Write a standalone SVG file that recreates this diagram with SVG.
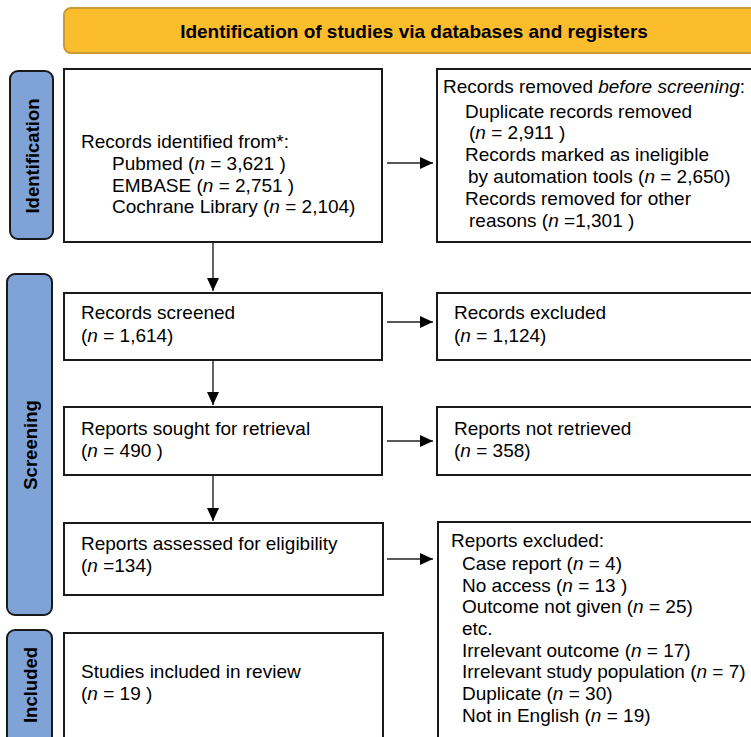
<svg xmlns="http://www.w3.org/2000/svg" width="751" height="737" viewBox="0 0 751 737">
<defs>
<marker id="ah" markerUnits="userSpaceOnUse" markerWidth="14" markerHeight="12" refX="13" refY="6" orient="auto">
<path d="M0,0 L13,6 L0,12 Z" fill="#000"/>
</marker>
<style>
.t{font-family:"Liberation Sans",Arial,sans-serif;font-size:19px;fill:#000}
.box{fill:#fff;stroke:#1a1a1a;stroke-width:2}
.side{fill:#7fa3d6;stroke:#1a1a1a;stroke-width:2}
.sl{font-family:"Liberation Sans",Arial,sans-serif;font-size:18.5px;font-weight:bold;fill:#000}
.ban{fill:#fbbd2c;stroke:#c99b35;stroke-width:2}
.bt{font-family:"Liberation Sans",Arial,sans-serif;font-size:19px;font-weight:bold;fill:#000}
.c{stroke:#222;stroke-width:1.4;fill:none;marker-end:url(#ah)}
</style>
</defs>
<rect width="751" height="737" fill="#fff"/>
<g id="banner">
<rect class="ban" x="64" y="8" width="720" height="45" rx="7"/>
<text class="bt" x="414" y="38" text-anchor="middle">Identification of studies via databases and registers</text>
</g>
<g id="side-identification">
<rect class="side" x="10" y="71" width="43" height="168" rx="8"/>
<text class="sl" transform="translate(38.5,156) rotate(-90)" text-anchor="middle">Identification</text>
</g>
<g id="side-screening">
<rect class="side" x="7" y="274" width="45" height="341" rx="8"/>
<text class="sl" transform="translate(36.5,445) rotate(-90)" text-anchor="middle">Screening</text>
</g>
<g id="side-included">
<rect class="side" x="7" y="630" width="45" height="120" rx="8"/>
<text class="sl" transform="translate(36.5,685) rotate(-90)" text-anchor="middle">Included</text>
</g>
<g id="records-identified">
<rect class="box" x="64" y="69" width="318" height="173"/>
<text class="t" x="81" y="148">Records identified from*:</text>
<text class="t" x="112" y="170">Pubmed (<tspan font-style="italic">n</tspan> = 3,621 )</text>
<text class="t" x="112" y="192">EMBASE (<tspan font-style="italic">n</tspan> = 2,751 )</text>
<text class="t" x="112" y="213">Cochrane Library (<tspan font-style="italic">n</tspan> = 2,104)</text>
</g>
<g id="records-removed">
<rect class="box" x="437" y="69" width="330" height="173"/>
<text class="t" x="443" y="93">Records removed <tspan font-style="italic">before screening</tspan>:</text>
<text class="t" x="465" y="118">Duplicate records removed</text>
<text class="t" x="469" y="139">(<tspan font-style="italic">n</tspan> = 2,911 )</text>
<text class="t" x="465" y="161">Records marked as ineligible</text>
<text class="t" x="468" y="183">by automation tools (<tspan font-style="italic">n</tspan> = 2,650)</text>
<text class="t" x="465" y="205">Records removed for other</text>
<text class="t" x="469" y="227">reasons (<tspan font-style="italic">n</tspan> =1,301 )</text>
</g>
<g id="records-screened">
<rect class="box" x="64" y="293" width="318" height="67"/>
<text class="t" x="81" y="319">Records screened</text>
<text class="t" x="81" y="342">(<tspan font-style="italic">n</tspan> = 1,614)</text>
</g>
<g id="records-excluded">
<rect class="box" x="437" y="293" width="330" height="67"/>
<text class="t" x="454" y="319">Records excluded</text>
<text class="t" x="454" y="342">(<tspan font-style="italic">n</tspan> = 1,124)</text>
</g>
<g id="reports-sought">
<rect class="box" x="64" y="407" width="318" height="68"/>
<text class="t" x="81" y="435">Reports sought for retrieval</text>
<text class="t" x="81" y="457">(<tspan font-style="italic">n</tspan> = 490 )</text>
</g>
<g id="reports-not-retrieved">
<rect class="box" x="437" y="407" width="330" height="68"/>
<text class="t" x="454" y="435">Reports not retrieved</text>
<text class="t" x="454" y="457">(<tspan font-style="italic">n</tspan> = 358)</text>
</g>
<g id="reports-assessed">
<rect class="box" x="64" y="523" width="319" height="72"/>
<text class="t" x="81" y="550">Reports assessed for eligibility</text>
<text class="t" x="81" y="572">(<tspan font-style="italic">n</tspan> =134)</text>
</g>
<g id="reports-excluded">
<rect class="box" x="438" y="522" width="330" height="230"/>
<text class="t" x="451" y="547">Reports excluded:</text>
<text class="t" x="462" y="570">Case report (<tspan font-style="italic">n</tspan> = 4)</text>
<text class="t" x="462" y="592">No access (<tspan font-style="italic">n</tspan> = 13 )</text>
<text class="t" x="462" y="613">Outcome not given (<tspan font-style="italic">n</tspan> = 25)</text>
<text class="t" x="462" y="635">etc.</text>
<text class="t" x="462" y="657">Irrelevant outcome (<tspan font-style="italic">n</tspan> = 17)</text>
<text class="t" x="462" y="678">Irrelevant study population (<tspan font-style="italic">n</tspan> = 7)</text>
<text class="t" x="462" y="700">Duplicate (<tspan font-style="italic">n</tspan> = 30)</text>
<text class="t" x="462" y="722">Not in English (<tspan font-style="italic">n</tspan> = 19)</text>
</g>
<g id="studies-included">
<rect class="box" x="64" y="633" width="319" height="120"/>
<text class="t" x="81" y="678">Studies included in review</text>
<text class="t" x="81" y="700">(<tspan font-style="italic">n</tspan> = 19 )</text>
</g>
<g id="connectors">
<line class="c" x1="387" y1="163" x2="433" y2="163"/>
<line class="c" x1="213" y1="243" x2="213" y2="291"/>
<line class="c" x1="387" y1="322" x2="433" y2="322"/>
<line class="c" x1="213" y1="361" x2="213" y2="405"/>
<line class="c" x1="387" y1="441" x2="433" y2="441"/>
<line class="c" x1="213" y1="476" x2="213" y2="521"/>
<line class="c" x1="387" y1="559" x2="433" y2="559"/>
</g>
</svg>
